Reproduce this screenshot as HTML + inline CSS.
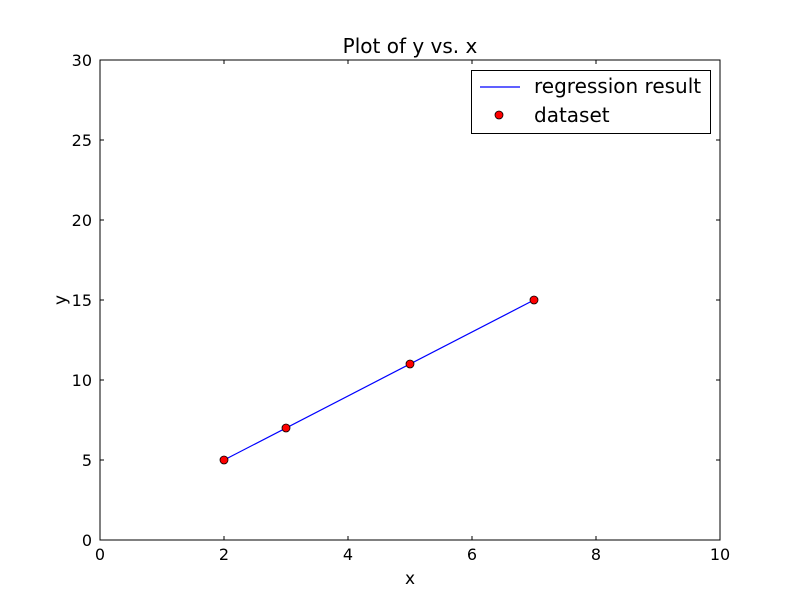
<!DOCTYPE html>
<html><head><meta charset="utf-8"><style>
body{margin:0;background:#fff}
svg text{font-family:"DejaVu Sans","Liberation Sans",sans-serif}
</style></head><body>
<svg id="chart" width="800" height="600" xmlns="http://www.w3.org/2000/svg">
<rect width="800" height="600" fill="#fff"/>
<g id="plot"></g>
</svg>
<script>
const xTicks=[0,2,4,6,8,10];
const yTicks=[0,5,10,15,20,25,30];
const dataX=[2,3,5,7];
const dataY=[5,7,11,15];
const regX=[2,7];
const regY=[5,15];
const L=100,R=720,T=60,B=540;
const sx=v=>L+(v-0)/(10-0)*(R-L);
const sy=v=>B-(v-0)/(30-0)*(B-T);
const NS="http://www.w3.org/2000/svg";
const g=document.getElementById('plot');
function mk(t,a,p){const e=document.createElementNS(NS,t);for(const k in a)e.setAttribute(k,a[k]);(p||g).appendChild(e);return e;}
xTicks.forEach(v=>{
 const x=sx(v);
 const t1=mk('line',{x1:x,x2:x,y1:B,y2:B-4,stroke:'#000'});
 
 
 mk('line',{x1:x,x2:x,y1:T,y2:T+4,stroke:'#000'});
 const tx=mk('text',{x:x,y:B+20,'text-anchor':'middle','font-size':'16'});
 tx.textContent=v;
 
 
});
yTicks.forEach(v=>{
 const y=sy(v);
 const t1=mk('line',{x1:L,x2:L+4,y1:y,y2:y,stroke:'#000'});
 
 
 mk('line',{x1:R,x2:R-4,y1:y,y2:y,stroke:'#000'});
 const tx=mk('text',{x:L-8,y:y+6,'text-anchor':'end','font-size':'16'});
 tx.textContent=v;
 
 
});
const pl=mk('polyline',{points:regX.map((x,i)=>sx(x)+','+sy(regY[i])).join(' '),fill:'none',stroke:'#0000ff','stroke-width':1.2});


dataX.forEach((x,i)=>{
 const c=mk('circle',{cx:sx(x),cy:sy(dataY[i]),r:4,fill:'#ff0000',stroke:'#000','stroke-width':0.8});
 
 
});
const fr=mk('rect',{x:L,y:T,width:R-L,height:B-T,fill:'none',stroke:'#000','stroke-width':1});


const ti=mk('text',{x:410,y:53,'text-anchor':'middle','font-size':'20'});ti.textContent='Plot of y vs. x';


const xl=mk('text',{x:410,y:584,'text-anchor':'middle','font-size':'17'});xl.textContent='x';


const yl=mk('text',{x:66,y:300,'text-anchor':'middle','font-size':'17',transform:'rotate(-90 66 300)'});yl.textContent='y';


const lg=mk('g',{});


mk('rect',{x:471.5,y:70.5,width:239,height:63,fill:'#fff',stroke:'#000'},lg);
const e1=mk('line',{x1:480,x2:520,y1:87,y2:87,stroke:'#0000ff','stroke-width':1.2},lg);


const t1=mk('text',{x:534,y:93,'font-size':'20'},lg);t1.textContent='regression result';


const e2=mk('circle',{cx:499,cy:115,r:4,fill:'#ff0000',stroke:'#000','stroke-width':0.8},lg);


const t2=mk('text',{x:534,y:122,'font-size':'20'},lg);t2.textContent='dataset';


</script>
</body></html>
